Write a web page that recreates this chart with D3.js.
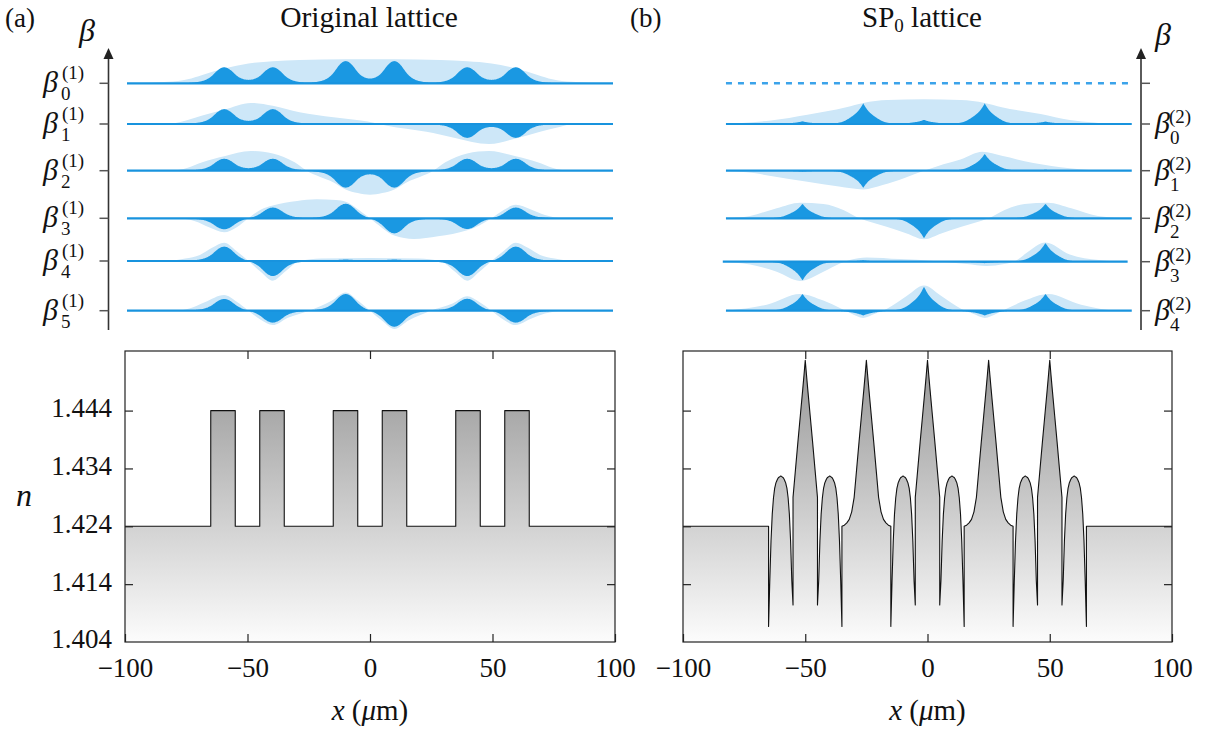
<!DOCTYPE html>
<html>
<head>
<meta charset="utf-8">
<script src="https://cdn.jsdelivr.net/npm/d3@7"></script>
<style>
  body { margin: 0; background: #fff; }
  svg text { font-family: "Liberation Serif", "DejaVu Serif", serif; fill: #111; }
</style>
</head>
<body>
<svg id="fig" width="1209" height="731"></svg>
<script>
// ------------------------------------------------------------------
//  data
// ------------------------------------------------------------------
var guidesA = [-60, -40, -10, 10, 40, 60];     // waveguide centres of the original lattice (um)
var guidesB = [-50, -25, 0, 25, 50];           // peak positions of the SP0 lattice (um)
var halfWidth = 5;
var nClad = 1.424, nCore = 1.444;
var nTicks = [1.404, 1.414, 1.424, 1.434, 1.444];
var xTicks = [-100, -50, 0, 50, 100];
var innerTicks = [-50, 0, 50];

// single-guide field shapes (distance um, relative amplitude)
var bellShape = [[0,1],[1,0.97],[2,0.89],[3,0.77],[4,0.62],[5,0.47],[6,0.35],[7,0.26],[8,0.19],
                 [9,0.14],[10,0.105],[12,0.06],[14,0.03],[16,0.015],[18,0]];
var cuspShape = [[0,1],[0.5,0.9],[1,0.8],[2,0.64],[3,0.52],[4,0.42],[5,0.34],[6,0.26],[7,0.19],
                 [8,0.13],[9,0.09],[10,0.06],[12,0.025],[15,0]];

// SP0 index profile pieces (distance um, n)
var arcShape  = [[0,1.4327],[1,1.4324],[1.5,1.4320],[2,1.4315],[2.5,1.4306],[3,1.4289],[3.5,1.4261],
                 [4,1.4215],[4.5,1.4146]];
var arcEndInner = 1.4104, arcEndOuter = 1.4067;
var spikeShape = [[0,1.4527],[0.5,1.4502],[1,1.4478],[2,1.4432],[3,1.4386],[4,1.4338],[5,1.4290],
                  [6,1.4265],[7,1.4252],[8,1.4246],[9,1.4242],[10,1.4240]];

// supermodes, original lattice: amplitude in each guide (dark) and envelope (light)
var modesA = [
  [0.67, 0.67, 0.93, 0.93, 0.67, 0.67],
  [0.62, 0.62, 0, 0, -0.58, -0.58],
  [0.5, 0.5, -0.71, -0.71, 0.5, 0.5],
  [-0.46, 0.45, 0.61, -0.63, -0.45, 0.45],
  [0.6, -0.63, 0.06, 0.06, -0.63, 0.6],
  [0.49, -0.5, 0.7, -0.67, 0.5, -0.5]
];
var envA = [
  [[-100,0],[-90,0.02],[-83,0.06],[-75,0.17],[-69,0.35],[-60,0.62],[-50,0.83],[-40,0.92],[-29,0.97],
   [-10,1.0],[0,1.0],[10,1.0],[29,0.97],[40,0.92],[50,0.83],[60,0.62],[69,0.35],[75,0.17],[83,0.06],[90,0.02],[100,0]],
  [[-100,0],[-84,0],[-75,0.17],[-69,0.35],[-60,0.6],[-49,0.88],[-40,0.76],[-29,0.49],[-15,0.28],[-1,0.1],
   [7,-0.07],[15,-0.2],[26,-0.37],[35,-0.58],[49,-0.83],[60,-0.6],[70,-0.32],[78,-0.12],[84,0],[100,0]],
  [[-100,0],[-82,0],[-75,0.12],[-69,0.35],[-60,0.6],[-49,0.82],[-40,0.72],[-31,0.35],[-26,0],[-15,-0.49],
   [-10,-0.78],[-5,-0.93],[0,-1.0],[5,-0.93],[10,-0.78],[15,-0.49],[26,0],[31,0.35],[40,0.72],[49,0.82],
   [60,0.6],[69,0.35],[75,0.12],[82,0],[100,0]],
  [[-100,0],[-80,0],[-72,-0.12],[-66,-0.38],[-60,-0.58],[-55,-0.38],[-50,0],[-45,0.36],[-40,0.53],[-30,0.72],
   [-22,0.79],[-14,0.76],[-10,0.69],[-5,0.38],[0,0],[5,-0.4],[10,-0.72],[18,-0.86],[28,-0.75],[40,-0.5],
   [45,-0.3],[50,0],[55,0.35],[60,0.56],[66,0.38],[72,0.14],[80,0],[100,0]],
  [[-100,0],[-83,0],[-76,0.1],[-70,0.25],[-65,0.55],[-60,0.76],[-55,0.42],[-50,0],[-45,-0.45],[-40,-0.82],
   [-35,-0.45],[-29,0],[-20,0.1],[0,0.13],[20,0.1],[29,0],[35,-0.45],[40,-0.82],[45,-0.45],[50,0],[55,0.42],
   [60,0.76],[65,0.55],[70,0.25],[76,0.1],[83,0],[100,0]],
  [[-100,0],[-80,0],[-74,0.1],[-68,0.35],[-60,0.65],[-55,0.38],[-50,0],[-45,-0.38],[-40,-0.6],[-34,-0.3],
   [-25,0],[-16,0.4],[-10,0.76],[-5,0.42],[0,0],[5,-0.42],[10,-0.76],[16,-0.4],[25,0],[34,0.3],[40,0.6],
   [45,0.36],[50,0],[55,-0.38],[60,-0.6],[66,-0.35],[72,-0.12],[80,0],[100,0]]
];

// supermodes, SP0 lattice (first level is the removed mode: dashed)
var modesB = [
  null,
  [0.11, 0.86, 0.17, 0.86, 0.1],
  [-0.04, -0.71, 0, 0.7, 0.04],
  [0.6, 0, -0.83, 0, 0.6],
  [-0.78, 0.06, 0, -0.06, 0.78],
  [0.7, -0.2, 1.0, -0.2, 0.7]
];
var envB = [
  null,
  [[-81.5,0],[-75,0.04],[-63,0.15],[-48,0.39],[-32,0.7],[-25,0.88],[-15,1.0],[0,1.03],[15,1.0],[25,0.88],
   [32,0.7],[48,0.42],[60,0.17],[70,0.06],[77,0],[85.5,0]],
  [[-81.5,0],[-70,-0.1],[-63,-0.22],[-48,-0.46],[-35,-0.66],[-25,-0.78],[-17,-0.6],[-8,-0.3],[0,0],[8,0.27],
   [15,0.47],[24,0.79],[32,0.62],[45,0.32],[60,0.1],[76,0],[85.5,0]],
  [[-81.5,0],[-71.6,0.1],[-60.6,0.42],[-51,0.65],[-41.4,0.6],[-33.2,0.35],[-26.5,0],[-15.4,-0.35],[-7.1,-0.63],
   [0,-0.87],[7.1,-0.63],[15.4,-0.35],[26.5,0],[33.2,0.35],[41.4,0.6],[51,0.65],[60.6,0.42],[71.6,0.1],[85.5,0]],
  [[-82.8,0],[-71.6,-0.12],[-60.6,-0.42],[-51,-0.8],[-41.4,-0.42],[-34.6,-0.07],[-30.5,0.07],[-23.6,0.18],
   [-10,0.11],[4,0.03],[17.6,-0.1],[25.8,-0.18],[33,-0.1],[38,0.05],[42,0.35],[50,0.8],[60,0.3],[72,0.07],[83.8,0]],
  [[-81,0],[-64.7,0.25],[-51,0.7],[-41.4,0.42],[-34.6,0.11],[-30,-0.12],[-25,-0.3],[-20,-0.12],[-15.4,0.07],
   [-7,0.62],[0,1.05],[7,0.62],[15.4,0.07],[20,-0.12],[25,-0.3],[30,-0.12],[34.6,0.11],[41.4,0.42],[51,0.7],
   [64.7,0.25],[81,0],[85.5,0]]
];
var rowStartB = [-81.5, -81.5, -81.5, -81.5, -82.8, -81.5];
var rowEndB   = [85.5, 85.5, 85.5, 85.5, 83.8, 85.5];

// ------------------------------------------------------------------
//  layout
// ------------------------------------------------------------------
var svg = d3.select("#fig");
var darkBlue = "#1a98e2", lightBlue = "#cde7f8", lineBlue = "#1893de";
var rowY_A = [83.3, 124, 170.7, 218.3, 261, 310.7];
var rowY_B = [83.3, 124, 170.7, 218.3, 261.7, 310.7];
var ampPx = 24;

var xTopA = d3.scaleLinear().domain([-100, 100]).range([127, 613]);
var xTopB = d3.scaleLinear().domain([-100, 100]).range([681, 1167]);
var xBotA = d3.scaleLinear().domain([-100, 100]).range([125, 615]);
var xBotB = d3.scaleLinear().domain([-100, 100]).range([683, 1172]);
var yN = d3.scaleLinear().domain([1.404, 1.4543]).range([642, 351]);

function shapeFn(shape) {
  return d3.scaleLinear().domain(shape.map(function(d){ return d[0]; }))
                         .range(shape.map(function(d){ return d[1]; })).clamp(true);
}

function darkSeries(centres, amps, shape, x0, x1) {
  var f = shapeFn(shape);
  var xs = d3.range(x0, x1, 0.25).concat([x1]);
  return xs.map(function(x) {
    return [x, d3.sum(centres, function(c, i) { return amps[i] * f(Math.abs(x - c)); })];
  });
}

// one row of the mode stack
function drawRow(g, xs, y0, env, centres, amps, shape, x0, x1) {
  var amp = d3.scaleLinear().domain([0, 1]).range([y0, y0 - ampPx]);
  var area = d3.area().x(function(d){ return xs(d[0]); }).y0(y0).y1(function(d){ return amp(d[1]); });
  g.append("path").datum(env).attr("d", area.curve(d3.curveMonotoneX)).attr("fill", lightBlue);
  g.append("path").datum(darkSeries(centres, amps, shape, x0, x1))
    .attr("d", area.curve(d3.curveLinear)).attr("fill", darkBlue);
  g.append("line").attr("x1", xs(x0)).attr("x2", xs(x1)).attr("y1", y0).attr("y2", y0)
    .attr("stroke", lineBlue).attr("stroke-width", 2.2);
}

var topA = svg.append("g");
modesA.forEach(function(m, i) {
  drawRow(topA, xTopA, rowY_A[i], envA[i], guidesA, m, bellShape, -100, 100);
});

var topB = svg.append("g");
modesB.forEach(function(m, i) {
  if (!m) {
    topB.append("line").attr("x1", xTopB(rowStartB[i])).attr("x2", xTopB(rowEndB[i]))
      .attr("y1", rowY_B[i]).attr("y2", rowY_B[i])
      .attr("stroke", "#3ba3ea").attr("stroke-width", 2.6).attr("stroke-dasharray", "6,6");
    return;
  }
  drawRow(topB, xTopB, rowY_B[i], envB[i], guidesB, m, cuspShape, rowStartB[i], rowEndB[i]);
});

// beta axes with arrows
function betaAxis(x, ys, tickDir) {
  var g = svg.append("g").attr("stroke", "#333");
  g.append("line").attr("x1", x).attr("x2", x).attr("y1", 330).attr("y2", 57).attr("stroke-width", 1.6);
  g.append("path").attr("d", "M" + (x - 5) + ",59L" + x + ",48L" + (x + 5) + ",59Z")
    .attr("fill", "#222").attr("stroke", "none");
  ys.forEach(function(y) {
    g.append("line").attr("x1", x).attr("x2", x + tickDir * 9).attr("y1", y).attr("y2", y)
      .attr("stroke-width", 1.5).attr("stroke", "#555");
  });
}
betaAxis(108.5, rowY_A, -1);
betaAxis(1141, rowY_B, 1);

function betaLabel(x, y, sub, sup, supDx, supDy, subDx, subDy) {
  var g = svg.append("g");
  g.append("text").attr("x", x).attr("y", y + 9).style("font-style", "italic").style("font-size", "30px").text("β");
  g.append("text").attr("x", x + supDx).attr("y", y + supDy).style("font-size", "19px").text("(" + sup + ")");
  g.append("text").attr("x", x + subDx).attr("y", y + subDy).style("font-size", "19px").text(sub);
}
rowY_A.forEach(function(y, i) { betaLabel(43, y, i, 1, 19, -4, 18, 17); });
rowY_B.slice(1).forEach(function(y, i) { betaLabel(1155, y, i, 2, 14, -1, 15, 20); });

svg.append("text").attr("x", 79).attr("y", 41).style("font-style", "italic").style("font-size", "32px").text("β");
svg.append("text").attr("x", 1155).attr("y", 45).style("font-style", "italic").style("font-size", "32px").text("β");

// titles and panel letters
svg.append("text").attr("x", 5).attr("y", 27).style("font-size", "27px").text("(a)");
svg.append("text").attr("x", 630).attr("y", 27).style("font-size", "27px").text("(b)");
svg.append("text").attr("x", 369).attr("y", 27).attr("text-anchor", "middle").style("font-size", "29.5px")
  .text("Original lattice");
var t2 = svg.append("text").attr("x", 922).attr("y", 27).attr("text-anchor", "middle").style("font-size", "29px");
t2.append("tspan").text("SP");
t2.append("tspan").attr("dy", 5).style("font-size", "19px").text("0");
t2.append("tspan").attr("dy", -5).text(" lattice");

// ------------------------------------------------------------------
//  refractive index profiles
// ------------------------------------------------------------------
var defs = svg.append("defs");
var grad = defs.append("linearGradient").attr("id", "ngrad").attr("gradientUnits", "userSpaceOnUse")
  .attr("x1", 0).attr("y1", yN.range()[1]).attr("x2", 0).attr("y2", yN.range()[0]);
grad.append("stop").attr("offset", 0).attr("stop-color", "#939393");
grad.append("stop").attr("offset", 1).attr("stop-color", "#fcfcfc");

// step profile of the original lattice
var profA = [[-100, nClad]];
guidesA.forEach(function(c) {
  profA.push([c - halfWidth, nClad], [c - halfWidth, nCore], [c + halfWidth, nCore], [c + halfWidth, nClad]);
});
profA.push([100, nClad]);

// SP0 profile built from the read arc and spike pieces
var spikeF = shapeFn(spikeShape), arcF = shapeFn(arcShape);
var profB = [[-100, nClad]];
guidesA.forEach(function(c, k) {
  var prev = k > 0 ? guidesA[k - 1] : null, next = k < guidesA.length - 1 ? guidesA[k + 1] : null;
  var leftInner = prev !== null && (c - prev) <= 2 * halfWidth + 10;
  var rightInner = next !== null && (next - c) <= 2 * halfWidth + 10;
  var lEdge = c - halfWidth, rEdge = c + halfWidth;
  var arcD = d3.range(0, 4.5001, 0.25);
  if (prev === null) profB.push([lEdge, nClad]);
  profB.push([lEdge, leftInner ? arcEndInner : arcEndOuter]);
  arcD.slice().reverse().forEach(function(d) { profB.push([c - d, arcF(d)]); });
  arcD.slice(1).forEach(function(d) { profB.push([c + d, arcF(d)]); });
  profB.push([rEdge, rightInner ? arcEndInner : arcEndOuter]);
  if (next !== null) {
    var g0 = rEdge, g1 = next - halfWidth, mid = (g0 + g1) / 2, h = (g1 - g0) / 2;
    var ds = spikeShape.map(function(p){ return p[0]; }).filter(function(d){ return d < h; }).concat([h]);
    ds.slice().reverse().forEach(function(d) { profB.push([mid - d, spikeF(d)]); });
    ds.slice(1).forEach(function(d) { profB.push([mid + d, spikeF(d)]); });
  } else {
    profB.push([rEdge, nClad]);
  }
});
profB.push([100, nClad]);

function indexPanel(xs, prof, withLabels) {
  var g = svg.append("g");
  var x0 = xs.range()[0], x1 = xs.range()[1], y0 = yN.range()[0], y1 = yN.range()[1];
  g.append("path").datum(prof)
    .attr("d", d3.area().x(function(d){ return xs(d[0]); }).y0(y0).y1(function(d){ return yN(d[1]); }))
    .attr("fill", "url(#ngrad)");
  g.append("path").datum(prof)
    .attr("d", d3.line().x(function(d){ return xs(d[0]); }).y(function(d){ return yN(d[1]); }))
    .attr("fill", "none").attr("stroke", "#111").attr("stroke-width", 1.1).attr("stroke-linejoin", "round");

  var axB = g.append("g").attr("transform", "translate(0," + y0 + ")")
    .call(d3.axisBottom(xs).tickValues(xTicks).tickSize(-8).tickPadding(16)
      .tickFormat(function(d){ return d < 0 ? "\u2212" + Math.abs(d) : d; }));
  var axT = g.append("g").attr("transform", "translate(0," + y1 + ")")
    .call(d3.axisTop(xs).tickValues(innerTicks).tickSize(-8).tickFormat(""));
  var axL = g.append("g").attr("transform", "translate(" + x0 + ",0)")
    .call(d3.axisLeft(yN).tickValues(nTicks.slice(1)).tickSize(-8).tickPadding(13)
      .tickFormat(withLabels ? d3.format(".3f") : ""));
  var axR = g.append("g").attr("transform", "translate(" + x1 + ",0)")
    .call(d3.axisRight(yN).tickValues(nTicks.slice(1)).tickSize(-8).tickFormat(""));
  [axB, axT, axL, axR].forEach(function(a) {
    a.select(".domain").remove();
    a.selectAll(".tick line").attr("stroke", "#222").attr("stroke-width", 1.2);
    a.selectAll("text").style("font-size", "27px").style("font-family", '"Liberation Serif", serif').attr("fill", "#111");
  });
  if (withLabels) {
    axL.append("g").attr("class", "tick").attr("transform", "translate(0," + yN(nTicks[0]) + ")")
      .append("text").attr("x", -13).attr("dy", "0.22em").attr("text-anchor", "end")
      .style("font-size", "27px").style("font-family", '"Liberation Serif", serif').attr("fill", "#111")
      .text(d3.format(".3f")(nTicks[0]));
    axL.selectAll("text").attr("dy", "0.22em");
  }
  g.append("rect").attr("x", x0).attr("y", y1).attr("width", x1 - x0).attr("height", y0 - y1)
    .attr("fill", "none").attr("stroke", "#222").attr("stroke-width", 1.2);

  var xl = g.append("text").attr("x", (x0 + x1) / 2).attr("y", 720).attr("text-anchor", "middle")
    .style("font-size", "29px");
  xl.append("tspan").style("font-style", "italic").text("x");
  xl.append("tspan").text(" (");
  xl.append("tspan").style("font-style", "italic").text("μ");
  xl.append("tspan").text("m)");
}
indexPanel(xBotA, profA, true);
indexPanel(xBotB, profB, false);

svg.append("text").attr("x", 16).attr("y", 506).style("font-style", "italic").style("font-size", "32px").text("n");
</script>
</body>
</html>
